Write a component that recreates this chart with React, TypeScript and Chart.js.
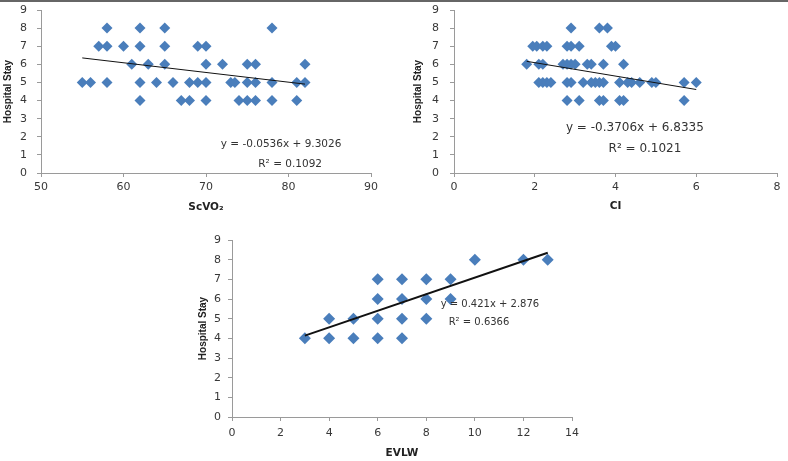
import React, { useEffect, useRef } from "react";
import { Chart, registerables } from "chart.js";

Chart.register(...registerables);

// ---------- data ----------
const scvo2X = [
  58, 62, 65, 78,
  57, 58, 60, 62, 65, 69, 70,
  61, 63, 65, 70, 72, 75, 76, 82,
  55, 56, 58, 62, 64, 66, 68, 69, 70, 73, 73.5, 75, 76, 78, 81, 82,
  62, 67, 68, 70, 74, 75, 76, 78, 81,
];
const scvo2Y = [
  8, 8, 8, 8,
  7, 7, 7, 7, 7, 7, 7,
  6, 6, 6, 6, 6, 6, 6, 6,
  5, 5, 5, 5, 5, 5, 5, 5, 5, 5, 5, 5, 5, 5, 5, 5,
  4, 4, 4, 4, 4, 4, 4, 4, 4,
];

const ciX = [
  2.9, 3.6, 3.8,
  1.95, 2.05, 2.2, 2.3, 2.8, 2.9, 3.1, 3.9, 4.0,
  1.8, 2.1, 2.2, 2.7, 2.8, 2.9, 3.0, 3.3, 3.4, 3.7, 4.2,
  2.1, 2.2, 2.3, 2.4, 2.8, 2.9, 3.2, 3.4, 3.5, 3.6, 3.7, 4.1, 4.3, 4.4, 4.6, 4.9, 5.0, 5.7, 6.0,
  2.8, 3.1, 3.6, 3.7, 4.1, 4.2, 5.7,
];
const ciY = [
  8, 8, 8,
  7, 7, 7, 7, 7, 7, 7, 7, 7,
  6, 6, 6, 6, 6, 6, 6, 6, 6, 6, 6,
  5, 5, 5, 5, 5, 5, 5, 5, 5, 5, 5, 5, 5, 5, 5, 5, 5, 5, 5,
  4, 4, 4, 4, 4, 4, 4,
];

const evlwX = [3, 4, 5, 6, 7, 4, 5, 6, 7, 8, 6, 7, 8, 9, 6, 7, 8, 9, 10, 12, 13];
const evlwY = [4, 4, 4, 4, 4, 5, 5, 5, 5, 5, 6, 6, 6, 6, 7, 7, 7, 7, 8, 8, 8];

// trendlines: [slope, intercept], x-range
const scvo2Trend = [-0.0536, 9.3026];
const scvo2TrendRange = [55, 82];
const ciTrend = [-0.3706, 6.8335];
const ciTrendRange = [1.8, 6.0];
const evlwTrend = [0.421, 2.876];
const evlwTrendRange = [3, 13];

const scvo2Eq = ["y = -0.0536x + 9.3026", "R\u00B2 = 0.1092"];
const ciEq = ["y = -0.3706x + 6.8335", "R\u00B2 = 0.1021"];
const evlwEq = ["y = 0.421x + 2.876", "R\u00B2 = 0.6366"];

const yTitle = "Hospital Stay";

// ---------- styling / layout ----------
const MARKER = "#4A7EBB";
const AXIS = "#9a9a9a";
const TEXT = "#383838";
const TICK_FONT = { family: "'DejaVu Sans', sans-serif", size: 11 };

type Panel = {
  left: number; top: number; width: number; height: number;
  padTop: number; padRight: number;
  yWidth: number; xHeight: number;
  yTickPad: number; xTickPad: number;
  yTitlePad: number; xTitlePad: number;
  xMin: number; xMax: number; xStep: number;
  xTitle: string;
  xs: number[]; ys: number[];
  trend: number[]; trendRange: number[]; trendWidth: number;
  eq: string[]; eqPos: number[][]; eqFont: string;
  radius: number;
};

const panels: Panel[] = [
  {
    left: 0, top: 0, width: 390, height: 215,
    padTop: 10, padRight: 19, yWidth: 41, xHeight: 42,
    yTickPad: 10, xTickPad: 4, yTitlePad: 2, xTitlePad: 1.7,
    xMin: 50, xMax: 90, xStep: 10, xTitle: "ScVO\u2082",
    xs: scvo2X, ys: scvo2Y, trend: scvo2Trend, trendRange: scvo2TrendRange, trendWidth: 1,
    eq: scvo2Eq, eqPos: [[79.1, 1.6], [80.2, 0.5]], eqFont: "10.5px 'DejaVu Sans', sans-serif",
    radius: 5.5,
  },
  {
    left: 390, top: 0, width: 398, height: 215,
    padTop: 10, padRight: 11, yWidth: 64, xHeight: 42,
    yTickPad: 11, xTickPad: 4, yTitlePad: 22, xTitlePad: 2.7,
    xMin: 0, xMax: 8, xStep: 2, xTitle: "CI",
    xs: ciX, ys: ciY, trend: ciTrend, trendRange: ciTrendRange, trendWidth: 1,
    eq: ciEq, eqPos: [[4.48, 2.48], [4.73, 1.33]], eqFont: "12px 'DejaVu Sans', sans-serif",
    radius: 5.5,
  },
  {
    left: 190, top: 225, width: 400, height: 236,
    padTop: 15, padRight: 18, yWidth: 42, xHeight: 44,
    yTickPad: 7, xTickPad: 6, yTitlePad: 7, xTitlePad: 1.7,
    xMin: 0, xMax: 14, xStep: 2, xTitle: "EVLW",
    xs: evlwX, ys: evlwY, trend: evlwTrend, trendRange: evlwTrendRange, trendWidth: 2,
    eq: evlwEq, eqPos: [[10.62, 5.75], [10.17, 4.83]], eqFont: "10px 'DejaVu Sans', sans-serif",
    radius: 6,
  },
];

function ScatterPanel({ p }: { p: Panel }) {
  const ref = useRef<HTMLCanvasElement | null>(null);
  useEffect(() => {
    if (!ref.current) return;
    const pts = p.xs.map((x, i) => ({ x, y: p.ys[i] }));
    const [m, b] = p.trend;
    const line = p.trendRange.map((x) => ({ x, y: m * x + b }));
    const eqPlugin = {
      id: "eqLabels",
      afterDatasetsDraw(chart: any) {
        const { ctx, scales } = chart;
        ctx.save();
        ctx.font = p.eqFont;
        ctx.fillStyle = "#333";
        ctx.textAlign = "center";
        ctx.textBaseline = "middle";
        p.eq.forEach((t, i) => {
          ctx.fillText(t, scales.x.getPixelForValue(p.eqPos[i][0]), scales.y.getPixelForValue(p.eqPos[i][1]));
        });
        ctx.restore();
      },
    };
    const chart = new Chart(ref.current, {
      type: "scatter",
      data: {
        datasets: [
          {
            type: "line",
            data: line,
            borderColor: "#111",
            borderWidth: p.trendWidth,
            pointRadius: 0,
            fill: false,
            order: 0,
          } as any,
          {
            data: pts,
            pointStyle: "rectRot",
            pointRadius: p.radius,
            backgroundColor: MARKER,
            borderColor: MARKER,
            borderWidth: 0,
            order: 1,
          },
        ],
      },
      options: {
        animation: false,
        responsive: false,
        events: [],
        layout: { padding: { top: p.padTop, right: p.padRight, bottom: 0, left: 0 } },
        plugins: { legend: { display: false }, tooltip: { enabled: false } },
        scales: {
          x: {
            type: "linear",
            min: p.xMin,
            max: p.xMax,
            ticks: { stepSize: p.xStep, font: TICK_FONT, color: TEXT, padding: p.xTickPad, maxRotation: 0 },
            grid: { drawOnChartArea: false, drawTicks: true, tickLength: 4, color: AXIS },
            border: { color: AXIS },
            title: {
              display: true,
              text: p.xTitle,
              color: "#222",
              font: { family: "'DejaVu Sans', sans-serif", size: 10.5, weight: "bold" },
              padding: { top: 0, bottom: p.xTitlePad },
            },
            afterFit: (s: any) => { s.height = p.xHeight; },
          },
          y: {
            type: "linear",
            min: 0,
            max: 9,
            ticks: { stepSize: 1, font: TICK_FONT, color: TEXT, padding: p.yTickPad },
            grid: { drawOnChartArea: false, drawTicks: true, tickLength: 4, color: AXIS },
            border: { color: AXIS },
            title: {
              display: true,
              text: yTitle,
              color: "#222",
              font: { family: "'Liberation Sans', Arial, sans-serif", size: 10, weight: "bold" },
              padding: { top: p.yTitlePad, bottom: 0 },
            },
            afterFit: (s: any) => { s.width = p.yWidth; s.paddingTop = 0; s.paddingBottom = 0; },
          },
        },
      } as any,
      plugins: [eqPlugin],
    });
    return () => chart.destroy();
  }, [p]);
  return (
    <canvas
      ref={ref}
      width={p.width}
      height={p.height}
      style={{ position: "absolute", left: p.left, top: p.top, width: p.width, height: p.height }}
    />
  );
}

export default function App() {
  return (
    <div style={{ position: "fixed", left: 0, top: 0, width: 788, height: 461, background: "#fff", overflow: "hidden" }}>
      <div style={{ position: "absolute", left: 0, top: 0, width: 788, height: 2, background: "#666" }} />
      {panels.map((p, i) => (
        <ScatterPanel key={i} p={p} />
      ))}
    </div>
  );
}
